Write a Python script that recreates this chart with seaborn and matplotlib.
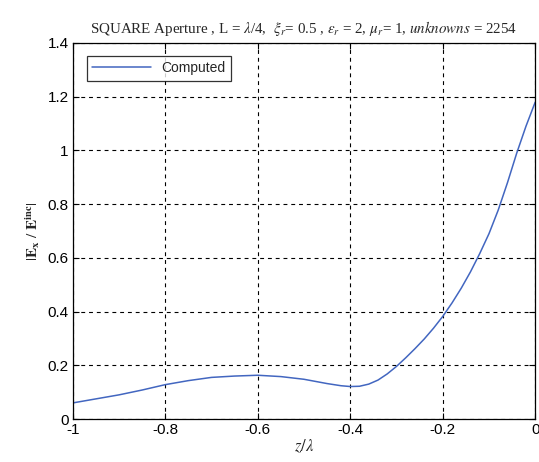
import matplotlib
matplotlib.use("Agg")
import matplotlib.pyplot as plt
import seaborn as sns
import pandas as pd

# Normalized field magnitude along the axis, sampled at z/lambda positions
z_over_lambda = [-1.0, -0.95, -0.9, -0.85, -0.8, -0.75, -0.7, -0.65, -0.6, -0.55,
                 -0.5, -0.45, -0.42, -0.4, -0.38, -0.36, -0.34, -0.32, -0.3, -0.28,
                 -0.26, -0.24, -0.22, -0.2, -0.18, -0.16, -0.14, -0.12, -0.1, -0.08,
                 -0.06, -0.04, -0.02, 0.0]
field_ratio = [0.060, 0.075, 0.090, 0.108, 0.128, 0.143, 0.155, 0.160, 0.163, 0.158,
               0.148, 0.132, 0.124, 0.121, 0.122, 0.130, 0.145, 0.168, 0.196, 0.228,
               0.262, 0.298, 0.338, 0.382, 0.432, 0.487, 0.548, 0.616, 0.690, 0.778,
               0.880, 0.990, 1.090, 1.180]
x_ticks = [-1, -0.8, -0.6, -0.4, -0.2, 0]
x_tick_labels = ["-1", "-0.8", "-0.6", "-0.4", "-0.2", "0"]
y_ticks = [0, 0.2, 0.4, 0.6, 0.8, 1.0, 1.2, 1.4]
y_tick_labels = ["0", "0.2", "0.4", "0.6", "0.8", "1", "1.2", "1.4"]

df = pd.DataFrame({"z": z_over_lambda, "E": field_ratio, "series": "Computed"})

sns.set_style("white")
plt.rcParams["font.family"] = ["Liberation Sans", "DejaVu Sans"]
plt.rcParams["mathtext.fontset"] = "stix"

fig = plt.figure(figsize=(5.39, 4.62), dpi=100)
ax = fig.add_axes([0.135, 0.093, 0.858, 0.814])

sns.lineplot(data=df, x="z", y="E", hue="series", palette=["#4266c0"],
             linewidth=1.1, ax=ax, legend=True)

ax.set_xlim(-1, 0)
ax.set_ylim(0, 1.4)
ax.set_xticks(x_ticks)
ax.set_xticklabels(x_tick_labels)
ax.set_yticks(y_ticks)
ax.set_yticklabels(y_tick_labels)
ax.tick_params(direction="in", length=4, width=0.8, labelsize=11, colors="black",
               top=True, right=True, bottom=True, left=True, pad=3)

ax.grid(True, color="black", linestyle=(0, (3.5, 3.5)), linewidth=0.8)
for spine in ax.spines.values():
    spine.set_color("black")
    spine.set_linewidth(0.9)

ax.set_xlabel(r"$z/\lambda$", fontsize=12, labelpad=0)
ax.set_ylabel(r"$|\mathbf{E}_{\mathbf{x}}\ /\ \mathbf{E}^{\mathbf{inc}}|$", fontsize=11, labelpad=4)
ax.set_title(r"SQUARE Aperture , L = $\lambda$/4,  $\xi_r$= 0.5 , $\varepsilon_r$ = 2, $\mu_r$= 1, $\it{unknowns}$ = 2254",
             fontsize=10.8, family="Liberation Serif", pad=7)

leg = ax.legend(loc="upper left", fontsize=10, frameon=True, fancybox=False,
                edgecolor="black", borderpad=0.4, handlelength=4.2,
                bbox_to_anchor=(0.015, 0.985))
leg.get_frame().set_linewidth(0.9)

fig.savefig("out.png", dpi=100)
